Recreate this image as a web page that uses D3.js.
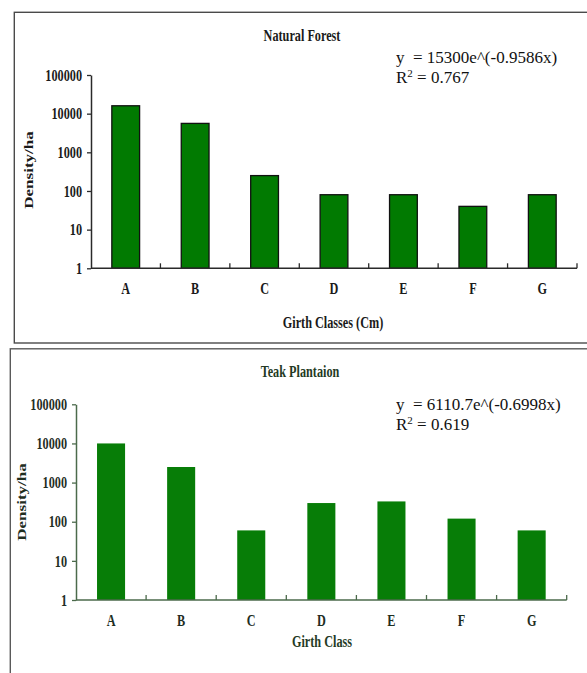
<!DOCTYPE html>
<html>
<head>
<meta charset="utf-8">
<script src="https://cdn.jsdelivr.net/npm/d3@7"></script>
<style>
  html, body { margin: 0; padding: 0; background: #fff; }
  svg { display: block; }
  text { font-family: "Liberation Serif", "Times New Roman", serif; }
</style>
</head>
<body>
<svg id="chart" width="587" height="673"></svg>
<script>
// Girth classes shared by both stands
const categories = ["A", "B", "C", "D", "E", "F", "G"];

// Stem density per hectare, natural forest
const forestDensity = [16000, 5600, 250, 80, 80, 40, 80];
// Stem density per hectare, teak plantation
const teakDensity = [10000, 2500, 60, 300, 330, 120, 60];

// Log-axis tick values
const yTicks = [1, 10, 100, 1000, 10000, 100000];

// Fitted exponential trend lines
const forestEquation = "y  = 15300e^(-0.9586x)";
const forestR2 = "0.767";
const teakEquation = "y  = 6110.7e^(-0.6998x)";
const teakR2 = "0.619";

const svg = d3.select("#chart");
const SX = 0.72; // narrow bold face

// Panel frames
svg.append("rect")
  .attr("x", 14.3).attr("y", 12.3).attr("width", 620).attr("height", 330.7)
  .attr("fill", "none").attr("stroke", "#4a4a4a").attr("stroke-width", 1.4);
svg.append("rect")
  .attr("x", 10.3).attr("y", 348.8).attr("width", 620).attr("height", 400)
  .attr("fill", "none").attr("stroke", "#5a5a5a").attr("stroke-width", 1.4);

function narrowText(g, x, y, str, opts) {
  const t = g.append("g").attr("transform", `translate(${x},${y}) scale(${SX},1)` + (opts.rotate ? " rotate(-90)" : ""))
    .append("text")
    .attr("text-anchor", opts.anchor || "middle")
    .attr("dominant-baseline", "central")
    .attr("font-weight", "bold")
    .attr("font-size", opts.size || 17)
    .attr("fill", opts.color)
    .text(str);
  return t;
}

function drawPanel(cfg) {
  const g = svg.append("g");

  const x = d3.scaleBand()
    .domain(categories)
    .range([cfg.left, cfg.right])
    .paddingInner(0.6)
    .paddingOuter(0.3);

  const y = d3.scaleLog()
    .domain([1, 100000])
    .range([cfg.bottom, cfg.top]);

  // Bars
  g.append("g").selectAll("rect")
    .data(cfg.values)
    .join("rect")
    .attr("x", (d, i) => x(categories[i]))
    .attr("width", x.bandwidth())
    .attr("y", d => y(d))
    .attr("height", d => y(1) - y(d))
    .attr("fill", cfg.barFill)
    .attr("stroke", cfg.barStroke)
    .attr("stroke-width", cfg.barStroke === "none" ? 0 : 1.3);

  // Y axis
  const yAxis = d3.axisLeft(y)
    .tickValues(yTicks)
    .tickFormat(d3.format("d"))
    .tickSize(4)
    .tickSizeOuter(0);
  const ya = g.append("g")
    .attr("transform", `translate(${cfg.left},0)`)
    .call(yAxis);
  ya.select(".domain").attr("stroke", cfg.axisColor).attr("stroke-width", 1.5);
  ya.selectAll(".tick line").attr("stroke", cfg.axisColor).attr("stroke-width", 1.3);
  ya.selectAll(".tick text").remove();
  yTicks.forEach(v => {
    narrowText(g, cfg.left - 9, y(v), String(v), { anchor: "end", color: cfg.textColor, size: 17 });
  });

  // X axis baseline with boundary ticks pointing upward
  g.append("line")
    .attr("x1", cfg.left).attr("x2", cfg.right)
    .attr("y1", y(1)).attr("y2", y(1))
    .attr("stroke", cfg.axisColor).attr("stroke-width", 1.5);
  g.append("g").selectAll("line")
    .data(categories)
    .join("line")
    .attr("x1", c => x(c) + x.bandwidth() + x.step() * 0.3)
    .attr("x2", c => x(c) + x.bandwidth() + x.step() * 0.3)
    .attr("y1", y(1)).attr("y2", y(1) - 5)
    .attr("stroke", cfg.axisColor).attr("stroke-width", 1.3);

  // Category labels
  categories.forEach(c => {
    narrowText(g, x(c) + x.bandwidth() / 2, y(1) + cfg.catOffset, c, { color: cfg.textColor, size: 17 });
  });

  // Titles
  narrowText(g, cfg.titleX, cfg.titleY, cfg.title, { color: cfg.titleColor, size: 17 });
  narrowText(g, cfg.xTitleX, cfg.xTitleY, cfg.xTitle, { color: cfg.titleColor, size: 17 });
  narrowText(g, cfg.yTitleX, cfg.yTitleY, "Density/ha", { color: cfg.textColor, size: 17, rotate: true });

  // Trend-line equation
  g.append("text")
    .attr("x", cfg.eqX).attr("y", cfg.eqY)
    .attr("font-size", 17)
    .attr("fill", "#111")
    .style("white-space", "pre")
    .text(cfg.equation);
  const r = g.append("text")
    .attr("x", cfg.eqX).attr("y", cfg.eqY + 20)
    .attr("font-size", 17)
    .attr("fill", "#111");
  r.append("tspan").text("R");
  r.append("tspan").attr("font-size", 11).attr("dy", -6).text("2");
  r.append("tspan").attr("dy", 6).style("white-space", "pre").text(" = " + cfg.r2);
}

drawPanel({
  values: forestDensity,
  left: 91, right: 577, top: 75, bottom: 268.3,
  barFill: "#017a01", barStroke: "#111",
  axisColor: "#2a2a2a", textColor: "#1a1a1a", titleColor: "#1a1a1a",
  catOffset: 20,
  title: "Natural Forest", titleX: 302, titleY: 35,
  xTitle: "Girth Classes (Cm)", xTitleX: 333, xTitleY: 322.5,
  yTitleX: 29, yTitleY: 170,
  equation: forestEquation, r2: forestR2, eqX: 396, eqY: 63
});

drawPanel({
  values: teakDensity,
  left: 76, right: 566.7, top: 404.3, bottom: 600,
  barFill: "#077d07", barStroke: "none",
  axisColor: "#4b6a4b", textColor: "#1f2e1f", titleColor: "#243a24",
  catOffset: 20.7,
  title: "Teak Plantaion", titleX: 300, titleY: 371.5,
  xTitle: "Girth Class", xTitleX: 322, xTitleY: 641.5,
  yTitleX: 21.7, yTitleY: 502,
  equation: teakEquation, r2: teakR2, eqX: 396, eqY: 410
});
</script>
</body>
</html>
